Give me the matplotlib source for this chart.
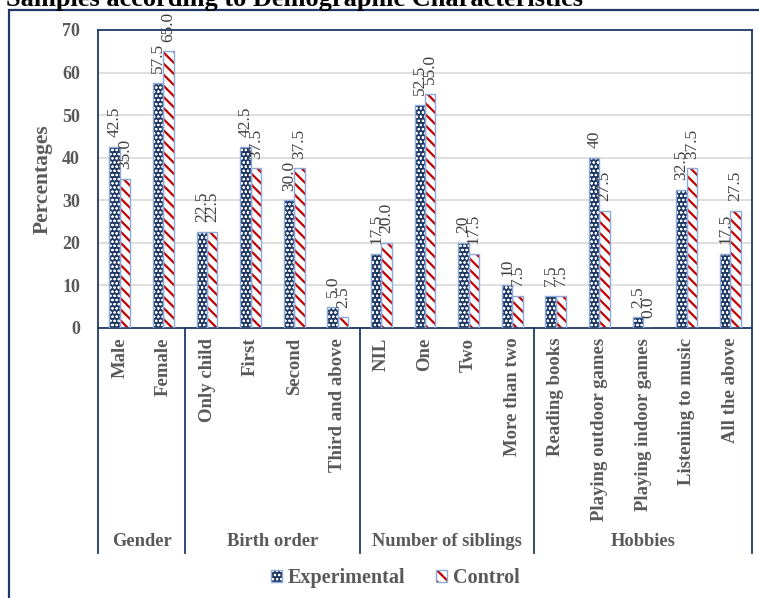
import matplotlib
matplotlib.use("Agg")
import matplotlib.pyplot as plt
import numpy as np
from matplotlib.patches import Patch, Rectangle
from matplotlib.legend_handler import HandlerTuple
from matplotlib.transforms import blended_transform_factory

# data
groups = ["Gender", "Birth order", "Number of siblings", "Hobbies"]
group_sizes = [2, 4, 4, 5]
categories = ["Male", "Female",
              "Only child", "First", "Second", "Third and above",
              "NIL", "One", "Two", "More than two",
              "Reading books", "Playing outdoor games", "Playing indoor games",
              "Listening to music", "All the above"]
experimental = [42.5, 57.5, 22.5, 42.5, 30.0, 5.0, 17.5, 52.5, 20, 10,
                7.5, 40, 2.5, 32.5, 17.5]
control = [35.0, 65.0, 22.5, 37.5, 37.5, 2.5, 20.0, 55.0, 17.5, 7.5,
           7.5, 27.5, 0.0, 37.5, 27.5]
exp_labels = ["42.5", "57.5", "22.5", "42.5", "30.0", "5.0", "17.5", "52.5",
              "20", "10", "7.5", "40", "2.5", "32.5", "17.5"]
ctrl_labels = ["35.0", "65.0", "22.5", "37.5", "37.5", "2.5", "20.0", "55.0",
               "17.5", "7.5", "7.5", "27.5", "0.0", "37.5", "27.5"]

serif = "Liberation Serif"
grey = "#595959"
navy = "#1F3864"
edge_blue = "#8EAADB"
red = "#C00000"
DOTS = "oooo"
STRIPES = "\\\\\\"

plt.rcParams["hatch.linewidth"] = 1.6


def hatch_lw(patches, lw):
    # per-artist hatch width where matplotlib supports it
    for p in patches:
        if hasattr(p, "set_hatch_linewidth"):
            p.set_hatch_linewidth(lw)


W, H = 759, 598
fig = plt.figure(figsize=(W / 100, H / 100), dpi=100)
ax = fig.add_axes([98 / W, (H - 328) / H, 654 / W, 298 / H])

x = np.arange(len(categories))
w = 0.24

# hatched fills (hatch colour follows edgecolor), then light blue outlines
b1 = ax.bar(x - w / 2, experimental, w, facecolor=navy, edgecolor="white",
            hatch=DOTS, linewidth=0, zorder=2)
hatch_lw(b1, 0.5)
b2 = ax.bar(x + w / 2, control, w, facecolor="white", edgecolor=red,
            hatch=STRIPES, linewidth=0, zorder=2)
hatch_lw(b2, 1.6)
ax.bar(x - w / 2, experimental, w, fill=False, edgecolor=edge_blue,
       linewidth=1.0, zorder=3)
ax.bar(x + w / 2, control, w, fill=False, edgecolor=edge_blue,
       linewidth=1.0, zorder=3)

for xi, v, t in zip(x - w / 2, experimental, exp_labels):
    ax.annotate(t, (xi, v), xytext=(0, 7), textcoords="offset points",
                rotation=90, ha="center", va="bottom", fontsize=12.5,
                family=serif, color="#404040")
for xi, v, t in zip(x + w / 2, control, ctrl_labels):
    ax.annotate(t, (xi, v), xytext=(0, 7), textcoords="offset points",
                rotation=90, ha="center", va="bottom", fontsize=12.5,
                family=serif, color="#404040")

ax.set_xlim(-0.5, len(categories) - 0.5)
ax.set_ylim(0, 70)
ax.set_yticks(range(0, 71, 10))
ax.yaxis.grid(True, color="#D9D9D9", linewidth=1.2, zorder=0)
ax.set_axisbelow(True)
ax.tick_params(axis="y", length=0, pad=13, labelsize=13, labelcolor=grey)
ax.set_xticks(x)
ax.set_xticklabels(categories, rotation=90)
ax.tick_params(axis="x", length=0, pad=7, labelsize=13.5, labelcolor=grey)
for lab in ax.get_xticklabels() + ax.get_yticklabels():
    lab.set_family(serif)
    lab.set_fontweight("bold")
for sp in ax.spines.values():
    sp.set_color(navy)
    sp.set_linewidth(1.3)

# group separators and group names below the category labels
trans = blended_transform_factory(ax.transData, ax.transAxes)
y_bot = (328 - 553) / 298
bounds = np.concatenate([[0], np.cumsum(group_sizes)]) - 0.5
for b in bounds:
    ax.plot([b, b], [0, y_bot], color=navy, linewidth=1.3,
            transform=trans, clip_on=False)
for g, lo, hi in zip(groups, bounds[:-1], bounds[1:]):
    ax.text((lo + hi) / 2, (328 - 542) / 298, g, transform=trans,
            ha="center", va="center", fontsize=13.3, fontweight="bold",
            family=serif, color=grey)

fig.text(43 / W, 1 - 179 / H, "Percentages", rotation=90, ha="center",
         va="center", fontsize=15.5, fontweight="bold", family=serif,
         color=grey)

fig.text(6 / W, 1 - 6 / H, "Samples according to Demographic Characteristics",
         ha="left", va="baseline", fontsize=19, fontweight="bold",
         family=serif, color="black")

# outer chart frame, right and bottom sides fall outside the image
fig.patches.append(Rectangle((9 / W, -0.05), 1.1, 1 - 10 / H + 0.05,
                             transform=fig.transFigure, fill=False,
                             edgecolor=navy, linewidth=1.6))

p_exp = Patch(facecolor=navy, edgecolor="white", hatch=DOTS, linewidth=0)
p_ctrl = Patch(facecolor="white", edgecolor=red, hatch=STRIPES, linewidth=0)
h_exp = (p_exp, Patch(fill=False, edgecolor=edge_blue, linewidth=1.0))
h_ctrl = (p_ctrl, Patch(fill=False, edgecolor=edge_blue, linewidth=1.0))
leg = fig.legend([h_exp, h_ctrl], ["Experimental", "Control"],
                 handler_map={tuple: HandlerTuple(ndivide=1)},
                 loc="center", bbox_to_anchor=(395 / W, 1 - 578 / H), ncol=2,
                 frameon=False, handlelength=0.55, handleheight=0.55,
                 handletextpad=0.3, columnspacing=1.5,
                 prop={"family": serif, "weight": "bold", "size": 14.5})
for t in leg.get_texts():
    t.set_color(grey)
# legend copies of the dotted patch need the thin hatch as well
hatch_lw([r for r in leg.findobj(Rectangle) if r.get_hatch() == DOTS], 0.5)

fig.savefig("out.png", dpi=100)
